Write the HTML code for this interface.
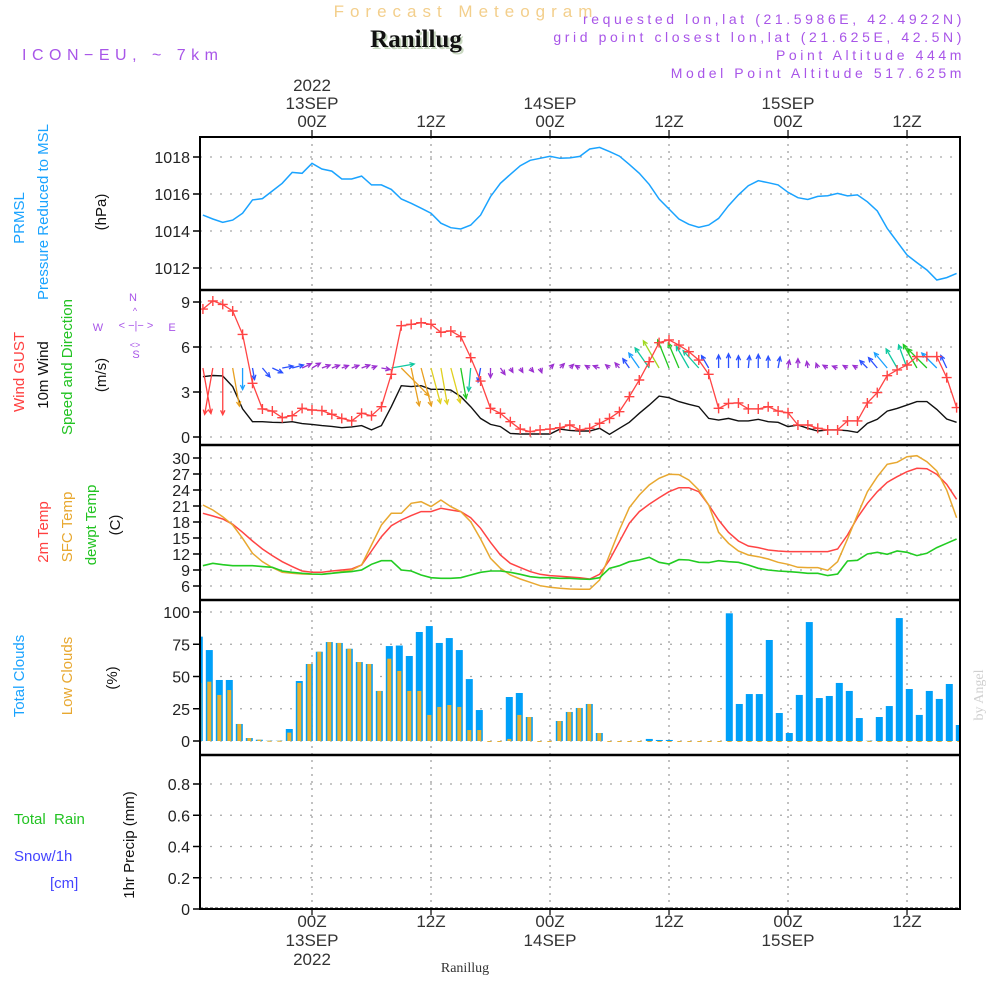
<!DOCTYPE html>
<html><head><meta charset="utf-8"><style>
html,body{margin:0;padding:0;background:#fff;}
svg text{font-family:"Liberation Sans",sans-serif;}
</style></head><body>
<svg id="chart" xmlns="http://www.w3.org/2000/svg" width="1000" height="1000" viewBox="0 0 1000 1000">
<g>
<text x="466" y="17" text-anchor="middle" font-size="17" fill="#f3cf8c" letter-spacing="6">Forecast Meteogram</text>
<text x="418" y="49" text-anchor="middle" font-size="25" font-weight="bold" fill="#c8d8c0" style="font-family:'Liberation Serif',serif">Ranillug</text>
<text x="416" y="47" text-anchor="middle" font-size="25" font-weight="bold" fill="#111" style="font-family:'Liberation Serif',serif">Ranillug</text>
<text x="22" y="60" font-size="16" fill="#a855e8" letter-spacing="5.5">ICON−EU, ~ 7km</text>
<g font-size="14" fill="#a855e8" text-anchor="end" letter-spacing="3.6">
<text x="965" y="24">requested lon,lat (21.5986E, 42.4922N)</text>
<text x="965" y="42">grid point closest lon,lat (21.625E, 42.5N)</text>
<text x="965" y="60">Point Altitude 444m</text>
<text x="965" y="78">Model Point Altitude 517.625m</text>
</g>
</g>
<g id="grid"></g>
<g id="marks"></g>
<g id="frame"></g>
<g id="labels"></g>
<g font-size="15">
<text transform="translate(24,218) rotate(-90)" text-anchor="middle" fill="#1aa3ff">PRMSL</text>
<text transform="translate(48,212) rotate(-90)" text-anchor="middle" fill="#1aa3ff">Pressure Reduced to MSL</text>
<text transform="translate(106,212) rotate(-90)" text-anchor="middle" fill="#111">(hPa)</text>
<text transform="translate(24,372) rotate(-90)" text-anchor="middle" fill="#ff4040">Wind GUST</text>
<text transform="translate(48,375) rotate(-90)" text-anchor="middle" fill="#111">10m Wind</text>
<text transform="translate(72,367) rotate(-90)" text-anchor="middle" fill="#22c322">Speed and Direction</text>
<text transform="translate(106,375) rotate(-90)" text-anchor="middle" fill="#111">(m/s)</text>
<g fill="#a855e8" font-size="11" text-anchor="middle">
<text x="133" y="301">N</text><text x="98" y="331">W</text><text x="172" y="331">E</text><text x="136" y="358">S</text>
<text x="136" y="329">&lt; −|− &gt;</text>
<text x="135" y="314" font-size="9">^</text><text x="135" y="348" font-size="9">&lt;&gt;</text>
</g>
<text transform="translate(48,532) rotate(-90)" text-anchor="middle" fill="#ff4040">2m Temp</text>
<text transform="translate(72,527) rotate(-90)" text-anchor="middle" fill="#e8a830">SFC Temp</text>
<text transform="translate(96,525) rotate(-90)" text-anchor="middle" fill="#22c322">dewpt Temp</text>
<text transform="translate(120,525) rotate(-90)" text-anchor="middle" fill="#111">(C)</text>
<text transform="translate(24,676) rotate(-90)" text-anchor="middle" fill="#1aa3ff">Total Clouds</text>
<text transform="translate(72,676) rotate(-90)" text-anchor="middle" fill="#e8a830">Low Clouds</text>
<text transform="translate(117,678) rotate(-90)" text-anchor="middle" fill="#111">(%)</text>
<text x="14" y="824" fill="#22c322" xml:space="preserve">Total  Rain</text>
<text x="14" y="861" fill="#4444ff">Snow/1h</text>
<text x="50" y="888" fill="#4444ff">[cm]</text>
<text transform="translate(134,845) rotate(-90)" text-anchor="middle" fill="#111">1hr Precip (mm)</text>
<text transform="translate(983,695) rotate(-90)" text-anchor="middle" fill="#d0d0d0" font-size="14" style="font-family:'Liberation Serif',serif">by Angel</text>
<text x="465" y="972" text-anchor="middle" font-size="14" fill="#333" style="font-family:'Liberation Serif',serif">Ranillug</text>
</g>
</svg>
<script>
// hours relative to 13SEP 00Z, start at -11
const startHour = -11;
const pressure = [1014.86,1014.65,1014.47,1014.59,1014.96,1015.68,1015.75,1016.16,1016.58,1017.17,1017.12,1017.66,1017.35,1017.24,1016.81,1016.81,1016.97,1016.49,1016.49,1016.25,1015.73,1015.5,1015.23,1014.96,1014.42,1014.18,1014.11,1014.32,1014.86,1015.86,1016.58,1017.06,1017.53,1017.82,1017.93,1018.04,1017.93,1017.95,1018.03,1018.43,1018.52,1018.29,1018.05,1017.6,1017.12,1016.52,1015.73,1015.19,1014.65,1014.36,1014.2,1014.32,1014.68,1015.37,1015.95,1016.45,1016.72,1016.61,1016.49,1016.09,1015.8,1015.7,1015.87,1015.91,1016.03,1015.9,1015.95,1015.58,1015.08,1014.14,1013.42,1012.7,1012.29,1011.89,1011.35,1011.48,1011.71];
const gust = [8.53,9.07,8.84,8.4,6.84,3.58,1.87,1.73,1.29,1.42,1.91,1.8,1.76,1.51,1.24,1.07,1.58,1.42,2.02,4.18,7.42,7.51,7.62,7.51,6.98,7.07,6.69,5.29,3.73,1.91,1.58,1.02,0.53,0.36,0.47,0.53,0.62,0.8,0.47,0.58,0.91,1.24,1.69,2.69,3.8,5.02,6.29,6.47,6.13,5.69,5.13,4.18,1.91,2.24,2.27,1.87,1.87,2.02,1.73,1.62,0.8,0.8,0.58,0.47,0.47,1.07,1.07,2.27,2.96,4.09,4.47,4.8,5.36,5.36,5.36,3.96,1.96];
const windSpeed = [4.02,4.1,4.07,3.36,1.87,1.02,1.02,0.98,0.96,1.02,0.89,0.84,0.76,0.71,0.62,0.67,0.76,0.47,0.76,2.02,3.42,3.36,3.42,3.18,3.18,3.13,2.69,2.02,1.24,0.84,0.69,0.24,0.2,0.2,0.2,0.2,0.53,0.44,0.4,0.4,0.58,0.18,0.58,0.98,1.58,2.13,2.73,2.62,2.36,2.18,2.02,1.24,1.13,1.24,1.07,1.07,1.18,1.02,0.98,0.69,0.8,0.58,0.4,0.47,0.47,0.42,0.31,0.91,1.18,1.73,1.91,2.13,2.36,2.36,1.84,1.2,0.98];
const windDir = [170,190,180,170,180,170,140,115,80,75,65,60,70,70,70,70,70,70,100,80,135,168,165,165,170,165,170,185,190,180,145,150,150,140,160,45,45,45,300,300,290,310,320,325,325,325,330,338,337,330,318,330,0,0,0,5,0,0,10,10,0,350,340,300,290,300,300,315,320,320,330,340,330,315,315,335];
const temp2m = [19.63,19.13,18.56,17.56,16.06,14.44,12.94,11.69,10.56,9.63,8.81,8.56,8.56,8.81,9.0,9.19,9.94,12.56,15.25,17.31,18.38,19.19,19.94,19.94,20.56,20.25,19.94,18.81,16.81,14.19,11.81,10.25,9.44,8.69,8.19,7.94,7.81,7.69,7.56,7.31,8.19,10.88,14.31,17.75,19.94,21.31,22.56,23.69,24.44,24.44,23.69,21.19,18.38,16.06,14.44,13.5,13.19,12.75,12.56,12.44,12.44,12.44,12.44,12.44,12.94,15.56,18.81,21.5,23.69,25.44,26.5,27.44,28.06,28.0,26.94,25.06,22.25];
const sfcTemp = [21.19,20.25,19.0,17.44,14.94,12.13,10.56,9.44,8.56,8.38,8.25,8.19,8.19,8.38,8.69,9.0,9.94,13.69,17.44,19.63,19.63,21.5,21.81,20.88,22.13,20.88,19.94,18.06,14.81,11.19,9.31,8.06,7.31,6.69,6.06,5.75,5.56,5.44,5.38,5.38,7.13,11.81,16.5,20.69,23.06,24.94,26.19,26.94,26.88,25.88,24.0,21.19,16.06,14.0,12.56,11.81,11.5,11.06,10.44,10.06,9.5,9.44,9.44,8.94,10.56,14.81,19.31,23.69,26.5,28.81,29.19,30.25,30.44,29.31,27.56,24.0,18.81];
const dewpt = [9.81,10.25,10.0,9.81,9.81,9.81,9.63,9.5,8.81,8.56,8.38,8.25,8.19,8.38,8.56,8.69,9.0,10.06,10.75,10.75,9.0,8.81,8.06,7.56,7.44,7.44,7.56,8.06,8.56,8.81,8.81,8.56,8.19,7.75,7.56,7.56,7.44,7.44,7.31,7.25,7.56,9.31,9.81,10.56,10.88,11.38,10.44,10.13,10.94,10.88,10.44,10.38,10.75,10.56,10.44,9.94,9.31,9.0,8.81,8.69,8.56,8.38,8.38,7.94,8.25,10.69,10.81,12.0,12.31,11.94,12.56,12.31,11.69,12.13,13.19,14.0,14.81];
const totalClouds = [80.9,70.5,47.3,47.3,13.2,2.3,1,0.2,0.2,9.3,46.5,59.7,69.2,76.7,76,71.5,61.2,59.7,38.8,73.6,74,65.9,84.5,89.1,76,79.8,70.5,48,24,0,0,34.1,37.2,18.6,0,0,15.5,22.5,25.6,28.7,6.2,0,0,0,0,1.6,0.8,0.8,0,0,0,0,0,99,28.7,36.4,36.4,78.3,21.7,6.2,35.7,92.2,33.3,34.9,45,38.8,17.8,0.2,18.6,27.1,95.3,40.3,20.2,38.8,32.6,44.2,12.4];
const lowClouds = [45,46,35.7,39.5,13.2,2.3,1,0.2,0.2,6.5,45,59.7,69.2,76.7,76,71.5,61.2,59.7,38.8,63.8,54.3,38.8,38.8,20.2,26.4,27.9,26.4,8.5,8.5,0,0,1.6,20.2,18.6,0,0,15.5,22.5,25.6,28.7,6.2,0,0,0,0,0,0,0,0,0,0,0,0,0,0,0,0,0,0,0,0,0,0,0,0,0,0,0,0,0,0,0,0,0,0,0,0];
const pressureTicks = [1012,1014,1016,1018];
const windTicks = [0,3,6,9];
const tempTicks = [6,9,12,15,18,21,24,27,30];
const cloudTicks = [0,25,50,75,100];
const precipTicks = [0,0.2,0.4,0.6,0.8];
const timeTickHours = [0,12,24,36,48,60];
const timeTickLabels = [["2022","13SEP","00Z"],["","","12Z"],["","14SEP","00Z"],["","","12Z"],["","15SEP","00Z"],["","","12Z"]];
const bottomTickLabels = [["00Z","13SEP","2022"],["12Z","",""],["00Z","14SEP",""],["12Z","",""],["00Z","15SEP",""],["12Z","",""]];

const NS="http://www.w3.org/2000/svg";
const X0=200,X1=960;
function X(h){return 312+h*9.917;}
function XB(h){return 209.3+10*(h+10);}
function yP(v){return 157+(1018-v)*18.5;}
function yW(v){return 437-v*15;}
function yT(v){return 458+(30-v)*5.333;}
function yC(v){return 741-v*1.29;}
function yR(v){return 909-v*156.25;}
function mk(tag,attrs,parent){const e=document.createElementNS(NS,tag);for(const k in attrs)e.setAttribute(k,attrs[k]);parent.appendChild(e);return e;}
const grid=document.getElementById('grid'),marks=document.getElementById('marks'),frame=document.getElementById('frame'),labels=document.getElementById('labels');

const panels=[[pressureTicks,yP,'pressure'],[windTicks,yW,'wind'],[tempTicks,yT,'temp'],[cloudTicks,yC,'cloud'],[precipTicks,yR,'precip']];
panels.forEach(([ticks,f,nm])=>{
  ticks.forEach(t=>{
    const y=f(t);
    const g=mk('line',{x1:X0,x2:X1,y1:y,y2:y,stroke:'#a8a8a8','stroke-width':1.3,'stroke-dasharray':'2,8'},grid);
    
    
    const tk=mk('line',{x1:193,x2:X0,y1:y,y2:y,stroke:'#000','stroke-width':1.5},frame);
    
    
    const tx=mk('text',{x:190,y:y+6,'text-anchor':'end','font-size':16,fill:'#222'},labels);
    tx.textContent=(nm==='precip'? (t===0?'0':t.toFixed(1)) : String(t));
    
    
  });
});
timeTickHours.forEach((h,i)=>{
  const x=X(h);
  const v=mk('line',{x1:x,x2:x,y1:137,y2:909,stroke:'#a0a0a0','stroke-width':1.3,'stroke-dasharray':'2,5'},grid);
  
  
  mk('line',{x1:x,x2:x,y1:130,y2:137,stroke:'#000','stroke-width':1.2},frame);
  mk('line',{x1:x,x2:x,y1:909,y2:915,stroke:'#000','stroke-width':1.2},frame);
  timeTickLabels[i].forEach((s,j)=>{ if(!s)return;
    const t=mk('text',{x:x,y:91+j*18,'text-anchor':'middle','font-size':17,fill:'#333'},labels);
    t.textContent=s;
    
    
  });
  bottomTickLabels[i].forEach((s,j)=>{ if(!s)return;
    const t=mk('text',{x:x,y:927+j*19,'text-anchor':'middle','font-size':17,fill:'#333'},labels);
    t.textContent=s;
    
    
  });
});
function poly(arr,f,color,name,w){
  const pts=arr.map((v,i)=>X(startHour+i).toFixed(1)+','+f(v).toFixed(1)).join(' ');
  const p=mk('polyline',{points:pts,fill:'none',stroke:color,'stroke-width':w||1.4},marks);
  
  
  return p;
}
const defs=mk('defs',{},marks);
const cp=mk('clipPath',{id:'plotclip'},defs);
mk('rect',{x:X0,y:137,width:X1-X0,height:772},cp);
marks.setAttribute('clip-path','url(#plotclip)');

totalClouds.forEach((v,i)=>{
  const h=startHour+i,x=XB(h);
  const b=mk('rect',{x:x-3.5,y:yC(v),width:7,height:yC(0)-yC(v),fill:'#00a0f8'},marks);
  
  
  const lv=lowClouds[i]||0;
  const l=mk('rect',{x:x-2,y:yC(lv),width:4,height:Math.max(1,yC(0)-yC(lv)),fill:'#e8b030'},marks);
  
  
});
const pb=mk('line',{x1:X0,x2:X1,y1:yR(0)-1,y2:yR(0)-1,stroke:'#333','stroke-width':1,'stroke-dasharray':'3,2'},marks);



poly(pressure,yP,'#1aa3ff','pressure-line',1.5);
poly(temp2m,yT,'#ff4444','temp-2m-line',1.5);
poly(sfcTemp,yT,'#e8a830','sfc-temp-line',1.5);
poly(dewpt,yT,'#22cc22','dewpt-line',1.6);
poly(windSpeed,yW,'#111','wind-10m-line',1.4);

function wcol(s){if(s<0.9)return '#9b30d0';if(s<1.5)return '#2a50ff';if(s<1.9)return '#1aa0ff';if(s<2.3)return '#10c8a0';if(s<2.7)return '#20c820';if(s<3.0)return '#a0d820';if(s<3.3)return '#e0d020';if(s<3.8)return '#e8a020';return '#ff4040';}
windDir.forEach((d,i)=>{
  const h=startHour+i,s=windSpeed[i];
  const L=Math.max(5,s*11.5);
  const r=d*Math.PI/180;
  const x0=X(h),y0=368,x1=x0+L*Math.sin(r),y1=y0-L*Math.cos(r);
  const c=wcol(s);
  const g=mk('g',{stroke:c,'stroke-width':1.3,fill:'none'},marks);
  
  
  mk('line',{x1:x0,y1:y0,x2:x1,y2:y1},g);
  const hl=5,a1=r+Math.PI-0.45,a2=r+Math.PI+0.45;
  mk('polyline',{points:`${x1+hl*Math.sin(a1)},${y1-hl*Math.cos(a1)} ${x1},${y1} ${x1+hl*Math.sin(a2)},${y1-hl*Math.cos(a2)}`},g);
});
poly(gust,yW,'#ff4444','gust-line',1.3);
gust.forEach((v,i)=>{
  const x=X(startHour+i),y=yW(v);
  const p=mk('path',{d:`M${x-5},${y}H${x+5}M${x},${y-5}V${y+5}`,stroke:'#ff4444','stroke-width':1.4},marks);
  
  
});
const fr=mk('rect',{x:X0,y:137,width:X1-X0,height:772,fill:'none',stroke:'#000','stroke-width':2},frame);


[290,445,600,755].forEach(y=>{
  const l=mk('line',{x1:X0,x2:X1,y1:y,y2:y,stroke:'#000','stroke-width':2.5},frame);
  
  
});
</script>
</body></html>
